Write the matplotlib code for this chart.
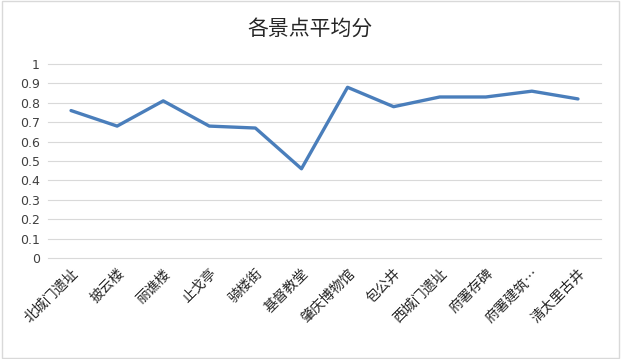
import matplotlib.pyplot as plt
import numpy as np

plt.rcParams['font.family'] = ['Noto Sans CJK SC', 'DejaVu Sans']

spots = ['北城门遗址', '披云楼', '丽谯楼', '止戈亭', '骑楼街', '基督教堂', '肇庆博物馆',
         '包公井', '西城门遗址', '府署存碑', '府署建筑…', '清太里古井']
scores = [0.76, 0.68, 0.81, 0.68, 0.67, 0.46, 0.88, 0.78, 0.83, 0.83, 0.86, 0.82]
yticks = [0, 0.1, 0.2, 0.3, 0.4, 0.5, 0.6, 0.7, 0.8, 0.9, 1]
ytick_labels = ['0', '0.1', '0.2', '0.3', '0.4', '0.5', '0.6', '0.7', '0.8', '0.9', '1']

fig = plt.figure(figsize=(6.21, 3.59), dpi=100)
ax = fig.add_axes([0.0773, 0.2813, 0.8905, 0.5404])

x = np.arange(len(spots))
ax.plot(x, scores, color='#4A7EBB', linewidth=2.4, solid_capstyle='round', solid_joinstyle='round')

ax.set_xlim(-0.5, len(spots) - 0.5)
ax.set_ylim(0, 1)
ax.set_yticks(yticks)
ax.set_yticklabels(ytick_labels, fontsize=9, color='#404040', family='DejaVu Sans')
ax.yaxis.grid(True, color='#D9D9D9', linewidth=0.8)
for gl in ax.get_ygridlines():
    gl.set_clip_on(False)
ax.set_axisbelow(True)
ax.set_xticks(x)
ax.set_xticklabels(spots, rotation=45, ha='right', rotation_mode='anchor', fontsize=10, color='#262626')
ax.tick_params(axis='both', length=0, pad=6)
for s in ax.spines.values():
    s.set_visible(False)

fig.suptitle('各景点平均分', y=0.95, fontsize=15, color='#262626')

border = plt.Rectangle((0.003, 0.003), 0.994, 0.994, transform=fig.transFigure,
                       fill=False, edgecolor='#D9D9D9', linewidth=1)
fig.add_artist(border)

fig.savefig('out.png', dpi=100)
